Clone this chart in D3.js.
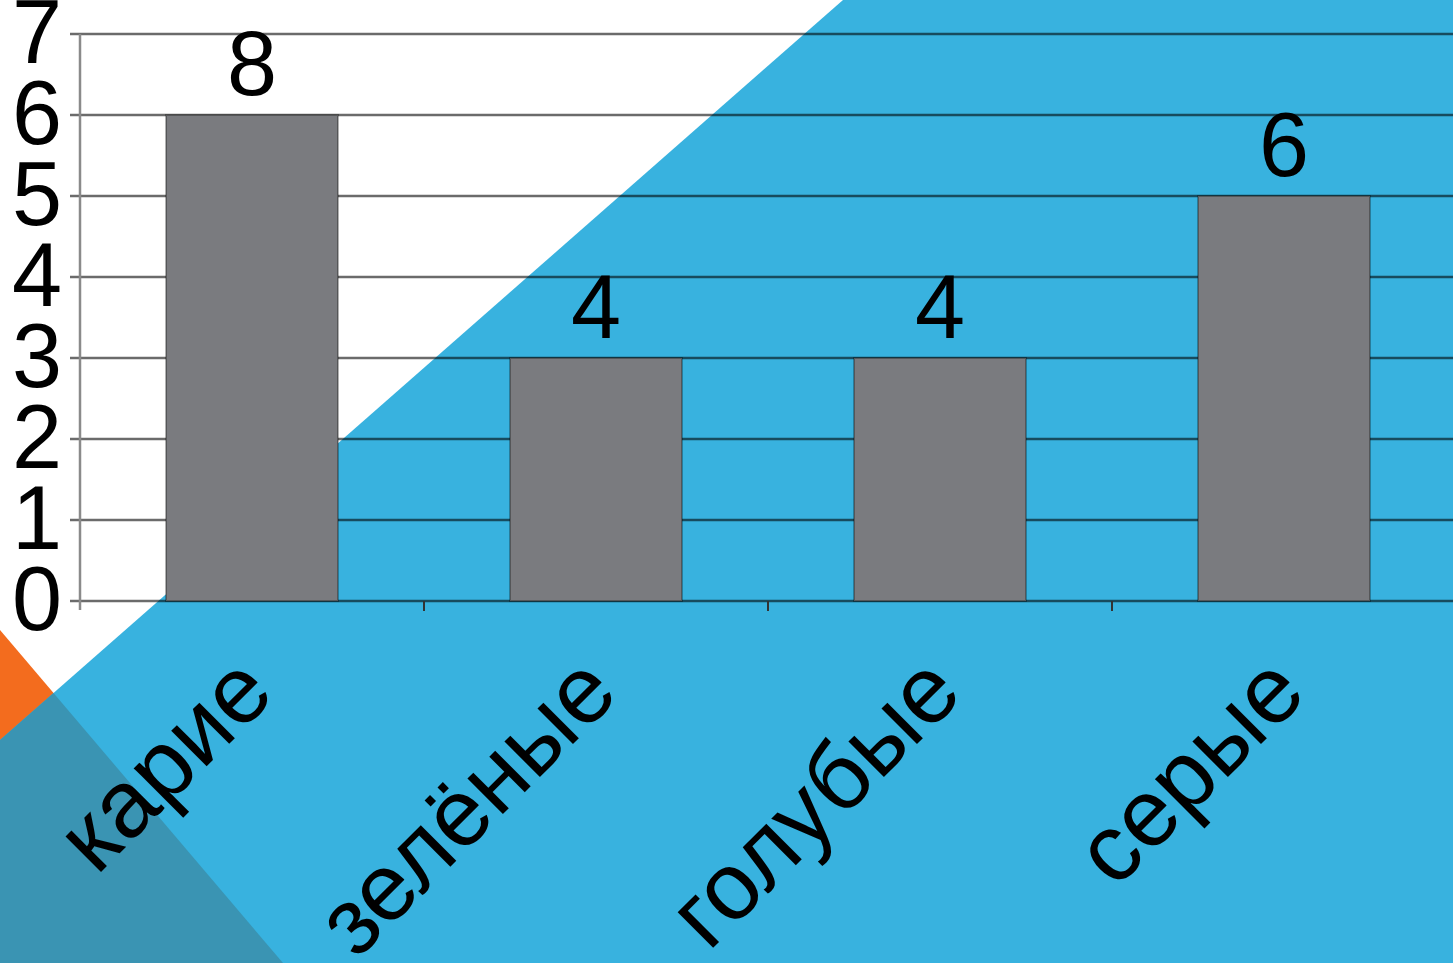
<!DOCTYPE html>
<html>
<head>
<meta charset="utf-8">
<script src="https://cdn.jsdelivr.net/npm/d3@7"></script>
<style>
  html, body { margin: 0; padding: 0; background: #fff; overflow: hidden; }
  svg { display: block; font-family: "Liberation Sans", Arial, sans-serif; }
</style>
</head>
<body>
<svg id="chart" width="1453" height="963"></svg>
<script>
// ---- data ----
const categories = ["карие", "зелёные", "голубые", "серые"];
const values = [6, 3, 3, 5];
const dataLabels = ["8", "4", "4", "6"];
const yTicks = [0, 1, 2, 3, 4, 5, 6, 7];

// ---- setup ----
const W = 1453, H = 963;
const svg = d3.select("#chart");

// decorative background shapes
const bg = svg.append("g");
bg.append("polygon").attr("points", "0,630 283,963 0,963").attr("fill", "#f36c1e");
bg.append("polygon").attr("points", "843,0 1453,0 1453,963 0,963 0,740").attr("fill", "#38b2df");
bg.append("polygon").attr("points", "0,740 53.5,693 283,963 0,963").attr("fill", "#3a94b3");

const x = d3.scaleBand().domain(categories).range([80, 1456]).paddingInner(0.5).paddingOuter(0.25);
const y = d3.scaleLinear().domain([0, 7]).range([601, 34]);

// gridlines
svg.append("g").selectAll("line").data(yTicks).join("line")
  .attr("x1", 70).attr("x2", W)
  .attr("y1", d => y(d)).attr("y2", d => y(d))
  .attr("stroke", "#000").attr("stroke-opacity", 0.58).attr("stroke-width", 2.5);

// y axis line
svg.append("line").attr("x1", 80).attr("x2", 80).attr("y1", y(7)).attr("y2", y(0) + 9)
  .attr("stroke", "#8a8a8a").attr("stroke-width", 2.5);

// x ticks at band boundaries
const step = x.step();
svg.append("g").selectAll("line").data(categories.slice(1)).join("line")
  .attr("x1", c => x(c) - (step - x.bandwidth()) / 2)
  .attr("x2", c => x(c) - (step - x.bandwidth()) / 2)
  .attr("y1", y(0)).attr("y2", y(0) + 10)
  .attr("stroke", "#333").attr("stroke-width", 2);

// bars
svg.append("g").selectAll("rect").data(categories).join("rect")
  .attr("x", c => x(c)).attr("width", x.bandwidth())
  .attr("y", (c, i) => y(values[i])).attr("height", (c, i) => y(0) - y(values[i]))
  .attr("fill", "#7a7b7f").attr("stroke", "#000").attr("stroke-opacity", 0.3).attr("stroke-width", 2);

// y tick labels
const yAxis = d3.axisLeft(y).tickValues(yTicks).tickSize(0).tickPadding(18).tickFormat(d3.format("d"));
const ya = svg.append("g").attr("transform", "translate(80,0)").call(yAxis);
ya.select(".domain").remove();
ya.selectAll("text").attr("font-size", 90).attr("fill", "#000")
  .attr("font-family", "'Liberation Sans', Arial, sans-serif");

// data labels
svg.append("g").selectAll("text").data(categories).join("text")
  .attr("x", c => x(c) + x.bandwidth() / 2)
  .attr("y", (c, i) => y(values[i]) - 20)
  .attr("text-anchor", "middle").attr("font-size", 90).attr("fill", "#000")
  .text((c, i) => dataLabels[i]);

// category labels
svg.append("g").selectAll("text").data(categories).join("text")
  .attr("transform", c => `translate(${x(c) + x.bandwidth() / 2 + 25},${y(0) + 95}) rotate(-45)`)
  .attr("text-anchor", "end").attr("font-size", 95).attr("fill", "#000")
  .text(c => c);
</script>
</body>
</html>
